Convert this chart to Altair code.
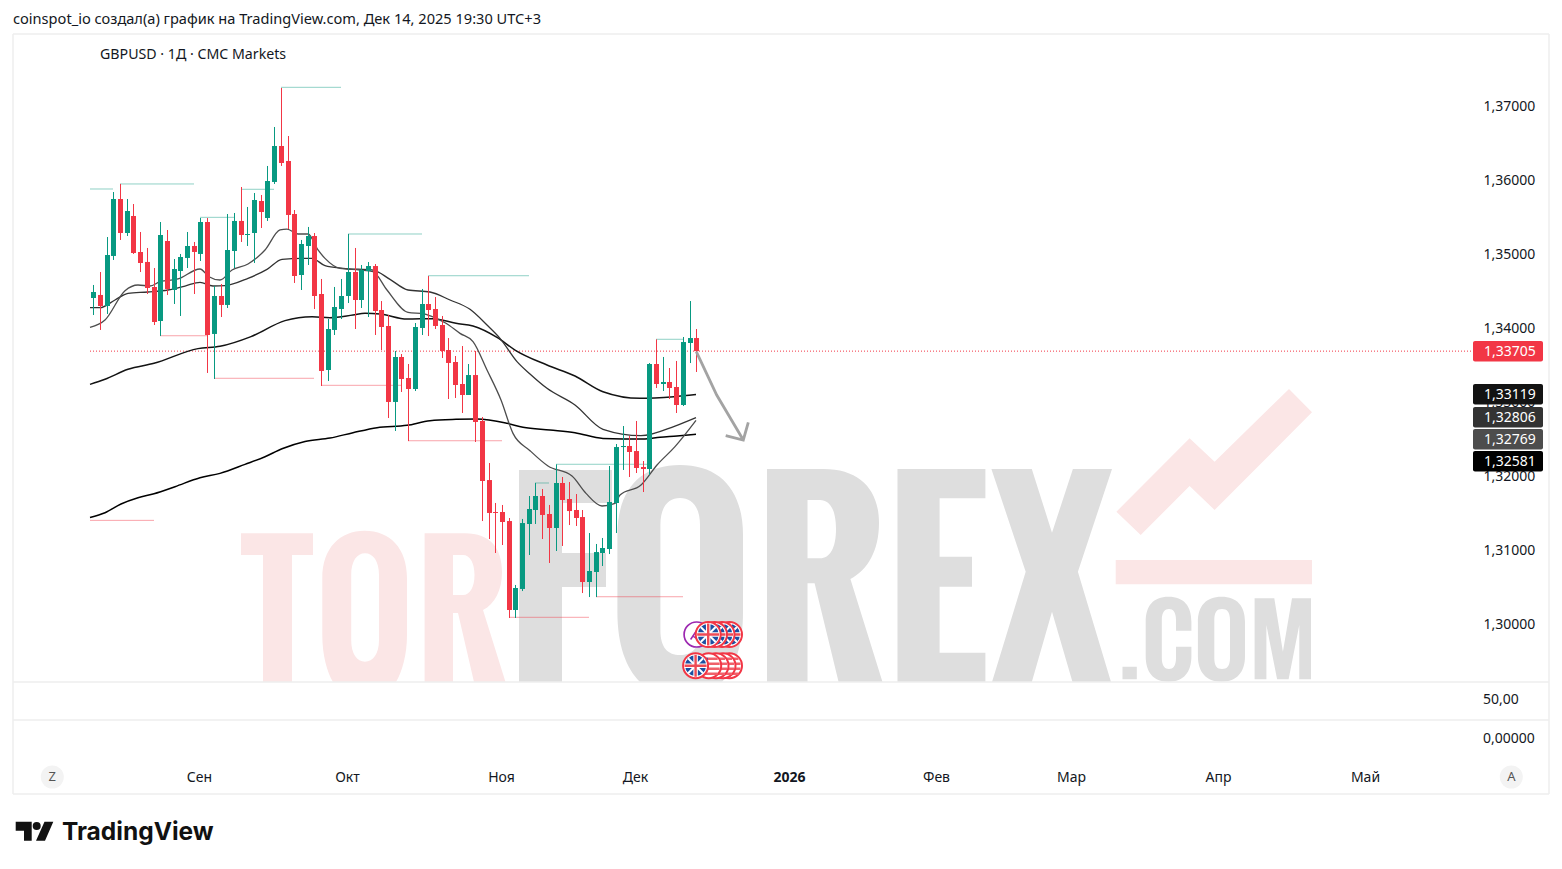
import altair as alt
import pandas as pd

# ---------- data ----------
opens = [1.34423,1.34464,1.34315,1.34991,1.35761,1.35301,1.35531,1.35045,1.34910,1.34572,1.34112,1.35193,1.34531,1.34788,1.34964,1.35126,1.35018,1.35450,1.33937,1.34450,1.34329,1.35058,1.35464,1.35274,1.35301,1.35734,1.35504,1.35991,1.36477,1.36274,1.35558,1.34734,1.35126,1.35261,1.34477,1.33450,1.33991,1.34274,1.34450,1.34774,1.34396,1.34788,1.34855,1.34261,1.34045,1.33018,1.33626,1.33342,1.33193,1.34018,1.34342,1.34274,1.34058,1.33720,1.33558,1.33261,1.33112,1.33382,1.32761,1.31963,1.31531,1.31531,1.31409,1.30207,1.30491,1.31369,1.31558,1.31747,1.31504,1.31315,1.31923,1.31707,1.31558,1.31463,1.30585,1.30720,1.30977,1.31031,1.31653,1.32409,1.32423,1.32355,1.32139,1.32112,1.33531,1.33261,1.33288,1.33220,1.32977,1.33815,1.33882]
highs = [1.34599,1.34774,1.35247,1.35855,1.35964,1.35761,1.35693,1.35315,1.35099,1.34828,1.35450,1.35342,1.34950,1.35018,1.35315,1.35180,1.35504,1.35504,1.34585,1.34612,1.35558,1.35572,1.35923,1.35653,1.35842,1.35815,1.36207,1.36734,1.37261,1.36612,1.35612,1.35207,1.35383,1.35301,1.34680,1.34139,1.34572,1.34680,1.35288,1.35099,1.34869,1.34909,1.34882,1.34382,1.34193,1.33707,1.33666,1.33531,1.34085,1.34545,1.34720,1.34436,1.34180,1.33882,1.33639,1.33774,1.33531,1.33707,1.32815,1.32193,1.31653,1.31626,1.31450,1.30545,1.31437,1.31747,1.31923,1.31842,1.31626,1.32175,1.32004,1.31936,1.31774,1.31558,1.31247,1.31099,1.31180,1.32153,1.32450,1.32693,1.32558,1.32761,1.32220,1.33544,1.33864,1.33626,1.33477,1.33572,1.33896,1.34382,1.34004]
lows = [1.34193,1.33991,1.34207,1.34937,1.35207,1.35261,1.35018,1.34774,1.34477,1.34058,1.33910,1.34464,1.34342,1.34180,1.34828,1.34477,1.34923,1.33410,1.33329,1.34166,1.34288,1.34828,1.35180,1.35126,1.34896,1.35369,1.35464,1.35964,1.36207,1.35355,1.34626,1.34531,1.34869,1.34274,1.33234,1.33301,1.33923,1.34139,1.34355,1.34004,1.34288,1.34166,1.33923,1.33720,1.32801,1.32626,1.33153,1.32490,1.33166,1.33923,1.33909,1.34004,1.33612,1.33058,1.33072,1.32869,1.33112,1.32477,1.31409,1.31166,1.30977,1.31085,1.30099,1.30099,1.30463,1.30950,1.31369,1.31166,1.30842,1.31004,1.31072,1.31355,1.31342,1.30436,1.30382,1.30382,1.30801,1.30963,1.31247,1.32099,1.32004,1.32058,1.31801,1.32031,1.33207,1.33166,1.33058,1.32869,1.32963,1.33544,1.33423]
closes = [1.34504,1.34315,1.35004,1.35761,1.35301,1.35599,1.35031,1.34896,1.34558,1.34099,1.35274,1.34545,1.34815,1.34977,1.35126,1.35045,1.35450,1.33923,1.34450,1.34329,1.35072,1.35464,1.35274,1.35288,1.35747,1.35585,1.36004,1.36477,1.36247,1.35545,1.34720,1.35153,1.35261,1.34450,1.33437,1.34004,1.34301,1.34450,1.34774,1.34396,1.34801,1.34855,1.34247,1.34031,1.33018,1.33626,1.33328,1.33193,1.34031,1.34342,1.34261,1.34045,1.33707,1.33545,1.33247,1.33112,1.33382,1.32747,1.31950,1.31518,1.31518,1.31396,1.30207,1.30504,1.31382,1.31572,1.31747,1.31491,1.31315,1.31923,1.31693,1.31544,1.31450,1.30585,1.30734,1.30990,1.31045,1.31666,1.32409,1.32423,1.32342,1.32126,1.32112,1.33531,1.33261,1.33288,1.33207,1.32977,1.33828,1.33882,1.33705]

ma1_i = [-0.5,1.75,5.2,9,15.7,18.9,23.6,28.6,32.6,35.3,38.8,40.6,42.8,46.8,50.7,54.2,56.7,60.2,62.9,67.7,71.9,76.1,81.6,86.6,90]
ma1_p = [1.33256,1.33324,1.33459,1.33540,1.33739,1.33770,1.33901,1.34117,1.34170,1.34157,1.34193,1.34216,1.34207,1.34139,1.34144,1.34081,1.34045,1.33891,1.33720,1.33517,1.33369,1.33157,1.33067,1.33090,1.33119]
ma2_i = [-0.5,1.75,4.2,6.7,9,12.2,15.9,18.9,22.7,25.7,28.1,31.6,35.3,38.8,42.3,46.8,50.2,54.2,57.2,61.7,64.2,68.2,71.9,76.1,82.1,84.6,87.1,90]
ma2_p = [1.31458,1.31521,1.31639,1.31724,1.31778,1.31873,1.31994,1.32053,1.32175,1.32278,1.32386,1.32485,1.32531,1.32603,1.32671,1.32702,1.32765,1.32783,1.32788,1.32729,1.32675,1.32639,1.32603,1.32526,1.32517,1.32540,1.32558,1.32581]
ma3_i = [-0.5,1.0,3.2,5.2,8.2,11.2,13.7,15.9,17.9,19.7,23.1,25.9,28.1,31.1,32.6,34.6,37.3,41.8,44.3,47.0,50.2,53.2,56.2,58.7,60.7,63.2,65.2,67.7,71.9,76.1,81.8,86.8,90]
ma3_p = [1.34292,1.34292,1.34396,1.34486,1.34504,1.34531,1.34585,1.34635,1.34585,1.34590,1.34689,1.34810,1.34946,1.34959,1.34959,1.34860,1.34824,1.34801,1.34675,1.34531,1.34504,1.34396,1.34270,1.34058,1.33878,1.33563,1.33396,1.33202,1.32977,1.32648,1.32562,1.32693,1.32806]
ma4_i = [-0.5,1.75,4.7,6.7,8.5,10,12.7,15.9,17.2,18.9,20.7,23.1,25.6,27.9,28.9,30.6,32.1,33.6,34.6,36.8,39.8,41.8,43.8,47.0,49.3,51.2,52.7,54.7,56.7,58.7,60.9,62.7,65.2,67.9,71.4,73.6,75.9,77.9,78.6,81.8,84.1,86.8,90]
ma4_p = [1.34027,1.34126,1.34522,1.34599,1.34585,1.34644,1.34680,1.34815,1.34711,1.34666,1.34801,1.34883,1.35072,1.35342,1.35355,1.35288,1.35288,1.35072,1.34959,1.34824,1.34801,1.34779,1.34531,1.34229,1.34207,1.34148,1.34081,1.33945,1.33833,1.33450,1.33045,1.32594,1.32360,1.32153,1.32017,1.31783,1.31612,1.31648,1.31761,1.31896,1.32166,1.32414,1.32769]

teal_start = [-0.5,4,16,22,28,38,50,66,69,84]
teal_end = [3,15,21,27,37,49,65,68,82.6,88]
teal_price = [1.35896,1.35964,1.35513,1.35892,1.37270,1.35288,1.34724,1.31923,1.32176,1.33865]
pink_start = [-0.5,10,18,34,47,62,75]
pink_end = [9,17,33,46,61,74,88]
pink_price = [1.31418,1.33913,1.33338,1.33243,1.32494,1.30108,1.30386]

last_price = 1.33705
y_ticks = [1.30,1.31,1.32,1.33,1.34,1.35,1.36,1.37]
x_ticks = [16,38,61,81,104,126,146,168,190]
x_labels = ['Сен','Окт','Ноя','Дек','2026','Фев','Мар','Апр','Май']
badge_text = ['1,33705','1,33119','1,32806','1,32769','1,32581']
badge_color = ['#f23645','#131313','#333333','#4d4d4d','#000000']
badge_top = [341,384,407,429,451]
pane_text = ['50,00','0,00000']
pane_y = [699.5,738.5]

FONT = 'Noto Sans'
INK = '#131722'
GREEN = '#089981'
RED = '#f23645'
W, H = 1546, 786

x_scale = alt.Scale(domain=[-12.7313, 218.0149], nice=False, zero=False, round=True, padding=0)
y_scale = alt.Scale(domain=[1.277203, 1.383419], nice=False, zero=False)

axis_x = alt.Axis(values=x_ticks, title=None, domain=False, ticks=False, tickSize=0, grid=False, labelPadding=0,
                  offset=-16.5, labelOffset=-1, labelBaseline='middle', labelFont=FONT, labelFontSize=14, labelColor=INK,
                  labelOverlap=False, labelFlush=False, labelAngle=0,
                  labelFontWeight=alt.condition('datum.value == %d' % x_ticks[4], alt.value('bold'), alt.value('normal')),
                  labelExpr="%s[indexof(%s, datum.value)]" % (x_labels, x_ticks))
axis_y = alt.Axis(values=y_ticks, title=None, orient='right', domain=False, ticks=False, tickSize=0, grid=False,
                  labelPadding=0, offset=-71, labelOffset=-1, labelAlign='left', labelFont=FONT, labelFontSize=14, labelColor=INK,
                  labelOverlap=False, labelFlush=False,
                  labelExpr="replace(format(datum.value, '.5f'), '.', ',')")

bars = pd.DataFrame({'i': range(len(opens)), 'o': opens, 'h': highs, 'l': lows, 'c': closes})
bars['dir'] = ['up' if c >= o else 'down' for o, c in zip(opens, closes)]
col = alt.Color('dir:N', scale=alt.Scale(domain=['up', 'down'], range=[GREEN, RED]), legend=None)
X = alt.X('i:Q', scale=x_scale, axis=axis_x)
Y = alt.Y('p:Q', scale=y_scale, axis=axis_y)

one = pd.DataFrame({'a': [0]})


def shape(path, fill=None, stroke=None, sw=1.0, cx=-8, cy=-8, size=4):
    kw = dict(shape=path, size=size, opacity=1)
    if fill is not None:
        kw.update(filled=True, fill=fill)
    else:
        kw.update(filled=False, fill='transparent')
    if stroke is not None:
        kw.update(stroke=stroke, strokeWidth=sw)
    else:
        kw.update(strokeWidth=0)
    return alt.Chart(one).mark_point(**kw).encode(x=alt.value(cx), y=alt.value(cy))


def label(text, px, py, size=14, color=INK, align='left', weight='normal', font=FONT, baseline='middle'):
    return alt.Chart(one).mark_text(text=text, align=align, baseline=baseline, fontSize=size, color=color,
                                    fontWeight=weight, font=font).encode(x=alt.value(px - 8), y=alt.value(py - 8))


def box(x0, x1, y0, y1, color, radius=0):
    return alt.Chart(one).mark_rect(color=color, cornerRadius=radius).encode(
        x=alt.value(x0 - 8), x2=alt.value(x1 - 8), y=alt.value(y0 - 8), y2=alt.value(y1 - 8))


def hline(x0, x1, y, color='#eeeeee', sw=1.5):
    return alt.Chart(one).mark_rule(color=color, strokeWidth=sw).encode(
        x=alt.value(x0 - 8), x2=alt.value(x1 - 8), y=alt.value(y - 8))


def vline(x, y0, y1, color='#eeeeee', sw=1.5):
    return alt.Chart(one).mark_rule(color=color, strokeWidth=sw).encode(
        x=alt.value(x - 8), y=alt.value(y0 - 8), y2=alt.value(y1 - 8))


layers = []

# watermark
pink_path = (
    'M241,533.3H313V555H292V682H263V555H241Z '
    'M333,682C327,672 322.3,655 322.3,635V578C322.3,548 340,530.7 364.6,530.7C390,530.7 407,548 407,578V635C407,655 402,672 396,682Z '
    'M351.2,575V640C351.2,654 357,661.7 365,661.7C373,661.7 379,654 379,640V575C379,561 373,553.3 365,553.3C357,553.3 351.2,561 351.2,575Z '
    'M424.6,533.3H465C490,533.3 502,548 502,572C502,590 495,604 483,610L505.5,682H474L458,613H453V682H424.6Z '
    'M453,555V595H463C470,595 474.5,587 474.5,575C474.5,563 470,555 463,555Z '
    'M1115.7,560H1312V584.3H1115.7Z '
    'M1116.4,511.7L1189.6,438.3L1214.6,461.7L1289,389L1312,412.3L1214.6,510L1189.6,486L1140.7,535Z'
)
grey_path = (
    'M519,470H612V503H562V553H606V587H562V682H519Z '
    'M640,682C626,668 617.4,645 617.4,612V535C617.4,490 640,465 680,465C720,465 743,490 743,535V612C743,645 735,668 722,682Z '
    'M660.4,525V630C660.4,648 668,655 680,655C692,655 700,648 700,630V525C700,507 692,498 680,498C668,498 660.4,507 660.4,525Z '
    'M767,469H823.6C860,469 879,490 879,523C879,550 868,570 850.4,579L882.5,682H838.6L814.6,583.3H807.5V682H767Z '
    'M807.5,500V558.3H820C830,558.3 836,548 836,529C836,510 830,500 820,500Z '
    'M897.5,469H985.4V498.3H939.6V556.7H972V586.7H939.6V652.7H985.4V682H897.5Z '
    'M991.4,469H1031.8L1052,532.7L1072.9,469H1112L1077.9,571.7L1111,682H1072.5L1052,611.7L1031.8,682H992L1025.7,571.7Z '
    'M1122.5,666.7H1136.8V679.3H1122.5Z '
    'M1168.5,596.7C1184,596.7 1191.4,606 1191.4,622V630.7H1176V620C1176,612 1173,609 1169,609C1165,609 1161.8,612 1161.8,620V658C1161.8,666 1165,669 1169,669C1173,669 1176,666 1176,658V646.7H1191.4V656C1191.4,672 1184,681.7 1168.5,681.7C1153,681.7 1145.7,672 1145.7,656V622C1145.7,606 1153,596.7 1168.5,596.7Z '
    'M1221.5,596.7C1237,596.7 1245,606 1245,622V656C1245,672 1237,681.7 1221.5,681.7C1206,681.7 1197.9,672 1197.9,656V622C1197.9,606 1206,596.7 1221.5,596.7Z '
    'M1222,609C1217,609 1214.3,612 1214.3,620V658C1214.3,666 1217,669 1222,669C1227,669 1230,666 1230,658V620C1230,612 1227,609 1222,609Z '
    'M1254.6,598.3H1274.3L1282.9,651.7L1292,598.3H1311V679.3H1299.3V625L1288.6,679.3H1277.1L1266.4,625V679.3H1254.6Z'
)
layers += [shape(pink_path, fill='#fbe6e6'), shape(grey_path, fill='#dedede')]

# frame and separators
layers += [hline(13, 1549, 34), hline(13, 1549, 794), vline(13, 34, 794), vline(1549, 34, 794),
           hline(13, 1549, 682), hline(13, 1549, 720)]

# level lines
for st, en, pr, colr in (
    (teal_start, teal_end, teal_price, GREEN),
    (pink_start, pink_end, pink_price, RED),
):
    df = pd.DataFrame({'i': st, 'j': en, 'p': pr})
    layers.append(alt.Chart(df).mark_rule(color=colr, strokeWidth=1, opacity=0.45).encode(x=X, x2='j:Q', y=Y))

# last price line
lp = pd.DataFrame({'i': [-0.5], 'j': [205.9], 'p': [last_price]})
layers.append(alt.Chart(lp).mark_rule(color=RED, strokeWidth=1, strokeDash=[1, 2]).encode(x=X, x2='j:Q', y=Y))

# moving averages
for xs, ps, colr, sw in ((ma2_i, ma2_p, '#000000', 1.5), (ma1_i, ma1_p, '#131313', 1.5),
                         (ma3_i, ma3_p, '#333333', 1.3), (ma4_i, ma4_p, '#4d4d4d', 1.3)):
    df = pd.DataFrame({'i': xs, 'p': ps})
    layers.append(alt.Chart(df).mark_line(color=colr, strokeWidth=sw, interpolate='monotone').encode(x=X, y=Y))

# candles
layers.append(alt.Chart(bars).mark_rule(strokeWidth=1, xOffset=0.5).encode(
    x=X, y=alt.Y('l:Q', scale=y_scale, axis=axis_y), y2='h:Q', color=col))
layers.append(alt.Chart(bars).mark_bar(size=5, xOffset=0.5, orient='vertical').encode(
    x=X, y=alt.Y('o:Q', scale=y_scale, axis=axis_y), y2='c:Q', color=col))

# forecast arrow
layers.append(shape('M696.3,351.7L716.7,395L743.3,440M725.7,435.7L743.3,440L748.3,422.3', stroke='#a3a3a3', sw=2.8))

# event badges
UK_W = 'M-7.5,-7.5L7.5,7.5M7.5,-7.5L-7.5,7.5'
CROSS = 'M-11,0H11M0,-11V11'


def uk(cx, cy):
    cx -= 8
    cy -= 8
    return [
        alt.Chart(one).mark_point(shape='circle', size=625, filled=True, fill='white', stroke=RED, strokeWidth=2,
                                  opacity=1).encode(x=alt.value(cx), y=alt.value(cy)),
        alt.Chart(one).mark_point(shape='circle', size=441, filled=True, fill='#1c4fa1', strokeWidth=0,
                                  opacity=1).encode(x=alt.value(cx), y=alt.value(cy)),
        shape(UK_W, stroke='white', sw=2, cx=cx, cy=cy),
        shape(CROSS, stroke='white', sw=4.5, cx=cx, cy=cy),
        shape(CROSS, stroke='#ee4b55', sw=2.4, cx=cx, cy=cy),
    ]


def us(cx, cy):
    cx -= 8
    cy -= 8
    return [
        alt.Chart(one).mark_point(shape='circle', size=625, filled=True, fill='white', stroke=RED, strokeWidth=2,
                                  opacity=1).encode(x=alt.value(cx), y=alt.value(cy)),
        shape('M-9,-7H9M-11,-2H11M-11,3H11M-9,8H9', stroke='#f0606a', sw=2.4, cx=cx, cy=cy),
        shape('M-10,-8H-1V-1H-11Z', fill='#1c4fa1', cx=cx, cy=cy),
    ]


layers.append(alt.Chart(one).mark_point(shape='circle', size=625, filled=True, fill='white', stroke='#9c27b0',
                                        strokeWidth=1.7, opacity=1).encode(x=alt.value(696.6 - 8), y=alt.value(634.5 - 8)))
layers.append(shape('M-6,5L0,-4L0,4L-3,2', stroke='#9c27b0', sw=1.5, cx=696.6 - 8, cy=634.5 - 8))
for cx in (729.5, 722, 714.5):
    layers += uk(cx, 634.5)
layers += uk(708.2, 634.5)
for cx in (729.5, 723, 716, 708.7):
    layers += us(cx, 665.7)
layers += uk(695.6, 665.7)

# price badges
for t, c, y0 in zip(badge_text, badge_color, badge_top):
    layers.append(box(1473, 1543, y0, y0 + 20.5, c, radius=2))
    layers.append(label(t, 1484, y0 + 10.5, color='#ffffff'))

# lower pane values
for t, y in zip(pane_text, pane_y):
    layers.append(label(t, 1483, y))

# round scale buttons
for t, cx in (('Z', 52.3), ('A', 1511.3)):
    layers.append(alt.Chart(one).mark_point(shape='circle', size=529, filled=True, fill='#f3f3f3', strokeWidth=0,
                                            opacity=1).encode(x=alt.value(cx - 8), y=alt.value(777 - 8)))
    layers.append(label(t, cx, 777, size=13, color='#555555', align='center'))

# texts
layers.append(label('coinspot_io создал(а) график на TradingView.com, Дек 14, 2025 19:30 UTC+3', 13, 20, size=14.6))
layers.append(label('GBPUSD · 1Д · CMC Markets', 100, 54.8, size=14.2))

# TradingView logo
layers.append(shape('M15.7,821.7H31.7V840.7H24V830.7H15.7Z M53.3,821.7L45,840.7H36L44.5,821.7Z', fill='#111111'))
layers.append(alt.Chart(one).mark_point(shape='circle', size=64, filled=True, fill='#111111', strokeWidth=0,
                                        opacity=1).encode(x=alt.value(36.7 - 8), y=alt.value(826 - 8)))
layers.append(label('TradingView', 62, 839.5, size=24.5, color='#111111', weight='bold', font='Inter', baseline='alphabetic'))

chart = alt.layer(*layers).properties(
    width=W, height=H,
    padding={'left': 0, 'top': 0, 'right': 0, 'bottom': 67},
    autosize=alt.AutoSizeParams(type='none'),
    background='white',
).configure_view(strokeWidth=0)

chart.save('out.html', embed_options={'renderer': 'svg', 'actions': False})
